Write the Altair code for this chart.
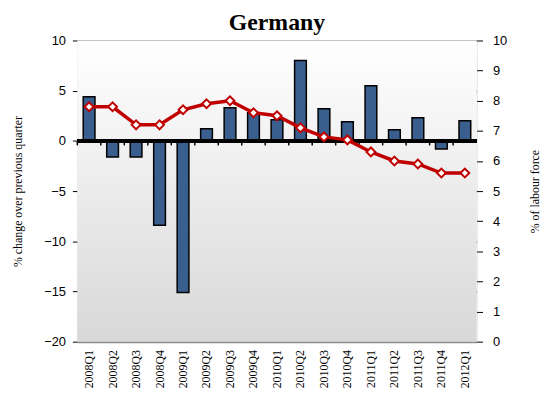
import altair as alt
import pandas as pd

quarters = ["2008Q1", "2008Q2", "2008Q3", "2008Q4", "2009Q1", "2009Q2", "2009Q3", "2009Q4",
            "2010Q1", "2010Q2", "2010Q3", "2010Q4", "2011Q1", "2011Q2", "2011Q3", "2011Q4", "2012Q1"]
gdp_change = [4.4, -1.6, -1.6, -8.4, -15.1, 1.2, 3.3, 2.8, 2.1, 8.0, 3.2, 1.9, 5.5, 1.1, 2.3, -0.8, 2.0]
unemployment = [7.8, 7.8, 7.2, 7.2, 7.7, 7.9, 8.0, 7.6, 7.5, 7.1, 6.8, 6.7, 6.3, 6.0, 5.9, 5.6, 5.6]
left_ticks = [-20, -15, -10, -5, 0, 5, 10]
right_ticks = [0, 1, 2, 3, 4, 5, 6, 7, 8, 9, 10]

df = pd.DataFrame({"quarter": quarters, "gdp": gdp_change, "unemp": unemployment})

serif = "Liberation Serif"
sans = "Liberation Sans"
W, H = 403, 304

x_enc = alt.X("quarter:N", sort=quarters,
              scale=alt.Scale(paddingInner=0.5, paddingOuter=0.25),
              axis=alt.Axis(title=None, labelAngle=-90, ticks=False, domain=False,
                            labelFont=serif, labelFontSize=12, labelColor="black",
                            labelPadding=8))

y_left = alt.Y("gdp:Q", scale=alt.Scale(domain=[-20, 10], nice=False, zero=False),
               axis=alt.Axis(title="% change over previous quarter", values=left_ticks,
                             orient="left", grid=True, gridColor="#8C8C8C", gridWidth=2,
                             domain=False, tickColor="black", tickSize=5, labelPadding=7,
                             labelFont=sans, labelFontSize=13, labelColor="black",
                             titleFont=serif, titleFontSize=12, titleFontWeight="normal",
                             titleColor="black", titlePadding=19))

base = alt.Chart(df)

gradient = alt.LinearGradient(gradient="linear", x1=0, y1=0, x2=0, y2=1,
                              stops=[alt.GradientStop(offset=0, color="#FFFFFF"),
                                     alt.GradientStop(offset=1, color="#D8D8D8")])
bg = alt.Chart(pd.DataFrame({"k": [0]})).mark_rect(color=gradient).encode(
    x=alt.value(0), x2=alt.value("width"), y=alt.value(0), y2=alt.value("height"))

bars = base.mark_bar(color="#3A5F8F", stroke="black", strokeWidth=1.5).encode(x=x_enc, y=y_left)
zero = base.mark_rule(color="black", strokeWidth=3).encode(y=alt.datum(0))
ticks = base.mark_rule(color="black", strokeWidth=1.5, xOffset=-W / len(quarters) * 0.25).encode(
    x=alt.X("quarter:N", sort=quarters, bandPosition=0),
    y=alt.datum(0), y2=alt.datum(-0.45))

y_right = alt.Y("unemp:Q", scale=alt.Scale(domain=[0, 10], nice=False),
                axis=alt.Axis(title="% of labour force", values=right_ticks, orient="right",
                              grid=False, domain=False, tickColor="black", tickSize=6,
                              labelPadding=10,
                              labelFont=sans, labelFontSize=13, labelColor="black",
                              titleFont=serif, titleFontSize=12, titleFontWeight="normal",
                              titleColor="black", titleAngle=270, titlePadding=35))

line = base.mark_line(color="#C00000", strokeWidth=3.5).encode(x=x_enc, y=y_right)
points = base.mark_point(shape="diamond", filled=True, fill="white", stroke="#C00000",
                         strokeWidth=2, size=80, opacity=1).encode(x=x_enc, y=y_right)

left_layer = alt.layer(bars, zero, ticks)
right_layer = alt.layer(line, points)

chart = alt.layer(bg, left_layer, right_layer).resolve_scale(y="independent").properties(
    width=W, height=H,
    title=alt.Title("Germany", font=serif, fontSize=24, fontWeight="bold", color="black",
                    anchor="middle", offset=0),
).configure_view(
    stroke="black", strokeWidth=2.5,
).configure(background="white", padding={"left": 3, "right": 0, "top": 1, "bottom": 3})

chart.save("out.html", embed_options={"renderer": "svg", "actions": False})
